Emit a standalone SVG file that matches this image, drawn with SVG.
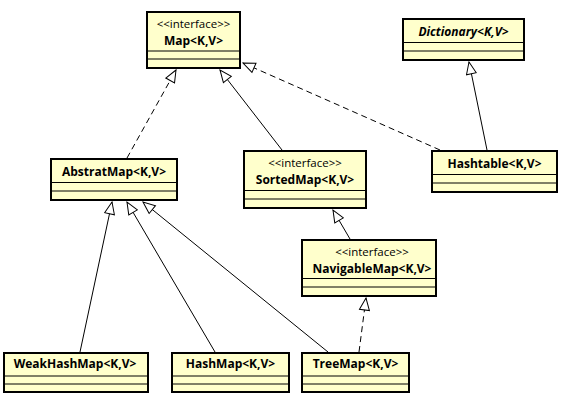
<svg xmlns="http://www.w3.org/2000/svg" width="563" height="401" viewBox="0 0 563 401">
<style>
.box{fill:#ffffcc;stroke:#000;stroke-width:2}
.sep{stroke:#000;stroke-width:1}
.name{font-family:"Open Sans","Noto Sans",sans-serif;font-size:12px;font-weight:bold;text-anchor:middle;fill:#000}
.st{font-family:"Open Sans","Noto Sans",sans-serif;font-size:11.5px;text-anchor:middle;fill:#000}
.ln{fill:none;stroke:#000;stroke-width:1;marker-end:url(#tri)}
.dash{stroke-dasharray:6,4}
</style>
<defs>
<marker id="tri" markerUnits="userSpaceOnUse" markerWidth="14" markerHeight="12" refX="13" refY="6" orient="auto" viewBox="0 0 14 12">
<path d="M1,1 L13,6 L1,11 Z" fill="#fff" stroke="#000" stroke-width="1" stroke-dasharray="none"/>
</marker>
</defs>
<rect width="563" height="401" fill="#fff"/>
<g id="connectors">
<path class="ln dash" d="M127,158 L176,70"/>
<path class="ln" d="M282,150 L220,70"/>
<path class="ln dash" d="M440,150 L243,63"/>
<path class="ln" d="M487,150 L469,62"/>
<path class="ln" d="M350,239 L333,210"/>
<path class="ln dash" d="M359,352 L366,298"/>
<path class="ln" d="M80,352 L112,202"/>
<path class="ln" d="M215,352 L127,202"/>
<path class="ln" d="M328,352 L143,202"/>
</g>
<g id="Map">
<rect class="box" x="147" y="12" width="93" height="56"/>
<line class="sep" x1="147" y1="51" x2="240" y2="51"/>
<line class="sep" x1="147" y1="59" x2="240" y2="59"/>
<text class="st" x="193.5" y="28">&lt;&lt;interface&gt;&gt;</text>
<text class="name" x="193.5" y="45">Map&lt;K,V&gt;</text>
</g>
<g id="Dictionary">
<rect class="box" x="403" y="19" width="121" height="41"/>
<line class="sep" x1="403" y1="42.5" x2="524" y2="42.5"/>
<line class="sep" x1="403" y1="51" x2="524" y2="51"/>
<text class="name" x="463.5" y="36" font-style="italic">Dictionary&lt;K,V&gt;</text>
</g>
<g id="Hashtable">
<rect class="box" x="432" y="151" width="125" height="41"/>
<line class="sep" x1="432" y1="174.5" x2="557" y2="174.5"/>
<line class="sep" x1="432" y1="183" x2="557" y2="183"/>
<text class="name" x="494.5" y="168">Hashtable&lt;K,V&gt;</text>
</g>
<g id="AbstratMap">
<rect class="box" x="51" y="159" width="126" height="41"/>
<line class="sep" x1="51" y1="182.5" x2="177" y2="182.5"/>
<line class="sep" x1="51" y1="191" x2="177" y2="191"/>
<text class="name" x="114" y="176">AbstratMap&lt;K,V&gt;</text>
</g>
<g id="SortedMap">
<rect class="box" x="244" y="151" width="122" height="57"/>
<line class="sep" x1="244" y1="190.5" x2="366" y2="190.5"/>
<line class="sep" x1="244" y1="199" x2="366" y2="199"/>
<text class="st" x="305" y="167">&lt;&lt;interface&gt;&gt;</text>
<text class="name" x="305" y="184">SortedMap&lt;K,V&gt;</text>
</g>
<g id="NavigableMap">
<rect class="box" x="302" y="240" width="134" height="56"/>
<line class="sep" x1="302" y1="278.5" x2="436" y2="278.5"/>
<line class="sep" x1="302" y1="287" x2="436" y2="287"/>
<text class="st" x="372" y="256">&lt;&lt;interface&gt;&gt;</text>
<text class="name" x="372" y="273">NavigableMap&lt;K,V&gt;</text>
</g>
<g id="WeakHashMap">
<rect class="box" x="4" y="353" width="144" height="39"/>
<line class="sep" x1="4" y1="376" x2="148" y2="376"/>
<line class="sep" x1="4" y1="384" x2="148" y2="384"/>
<text class="name" x="75" y="368">WeakHashMap&lt;K,V&gt;</text>
</g>
<g id="HashMap">
<rect class="box" x="172" y="353" width="117" height="39"/>
<line class="sep" x1="172" y1="376" x2="289" y2="376"/>
<line class="sep" x1="172" y1="384" x2="289" y2="384"/>
<text class="name" x="230.5" y="368">HashMap&lt;K,V&gt;</text>
</g>
<g id="TreeMap">
<rect class="box" x="302" y="353" width="107" height="39"/>
<line class="sep" x1="302" y1="376" x2="409" y2="376"/>
<line class="sep" x1="302" y1="384" x2="409" y2="384"/>
<text class="name" x="355.5" y="368">TreeMap&lt;K,V&gt;</text>
</g>
</svg>
